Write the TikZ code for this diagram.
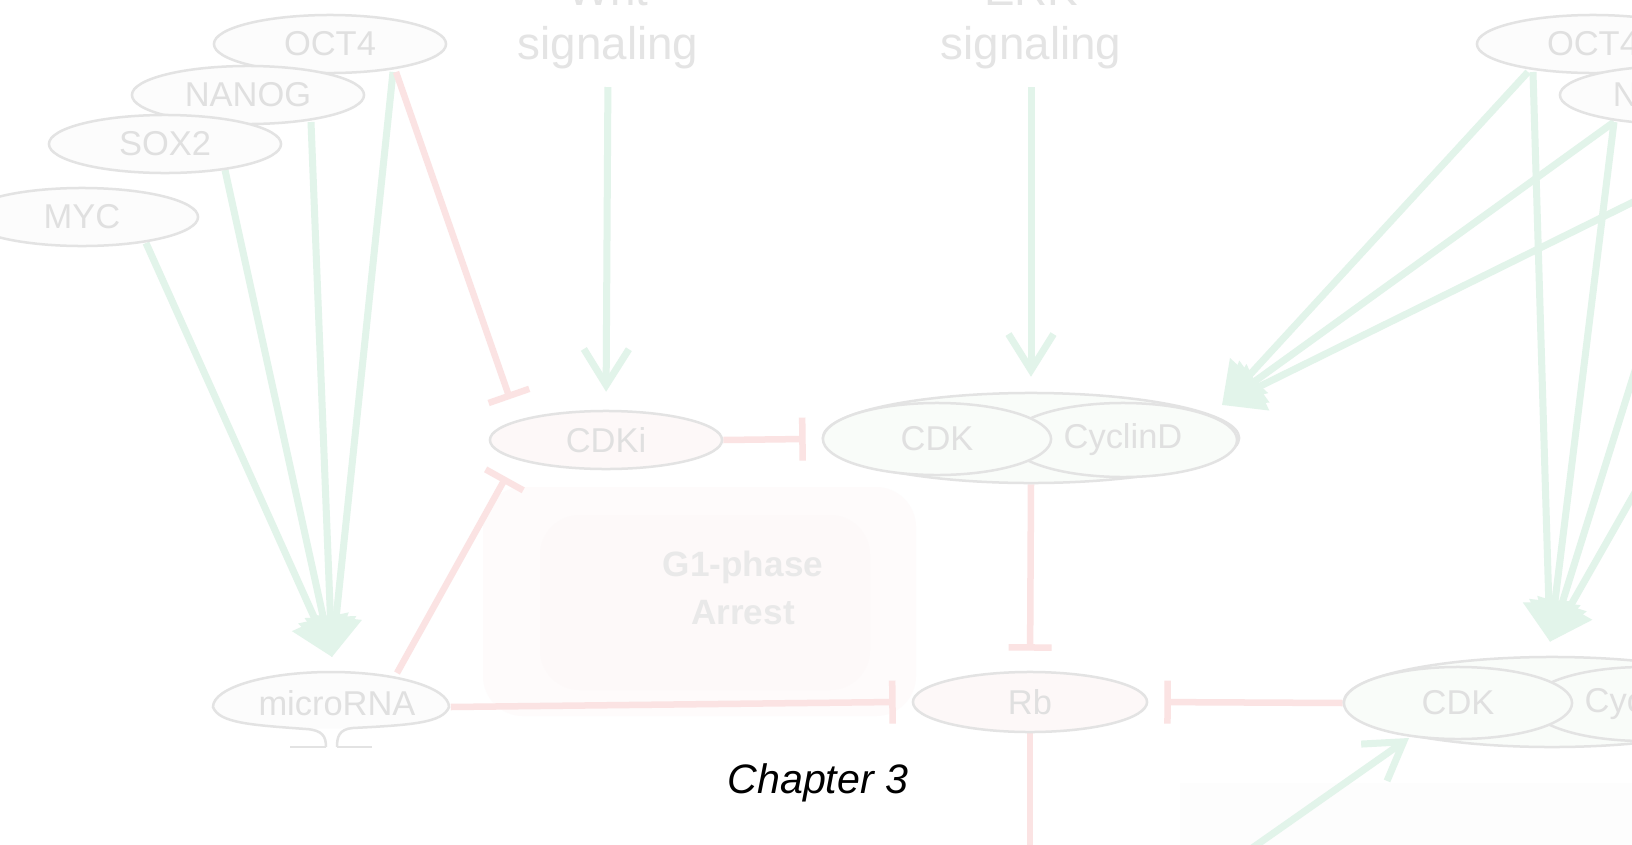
\documentclass[tikz,border=0pt]{standalone}
\usepackage{fontspec}
\setmainfont{Liberation Sans}
\usetikzlibrary{arrows.meta,shapes.geometric,calc}
\pgfdeclarelayer{back}
\pgfdeclarelayer{lines}
\pgfdeclarelayer{mid}
\pgfsetlayers{back,lines,mid,main}
\definecolor{labc}{HTML}{E0E0E0}
\definecolor{sigc}{HTML}{E4E4E4}
\definecolor{ellc}{HTML}{E3E3E3}
\definecolor{ellf}{HTML}{FCFCFC}
\definecolor{pinkf}{HTML}{FDF8F8}
\definecolor{greenf}{HTML}{F9FCF9}
\definecolor{grnc}{HTML}{E2F4EA}
\definecolor{redc}{HTML}{FBE3E3}
\definecolor{gonec}{HTML}{E9E9E9}
\definecolor{blurc}{HTML}{FEFBFB}
\definecolor{blurd}{HTML}{FDF9F9}
\definecolor{boxc}{HTML}{FDFDFD}
\begin{document}
\begin{tikzpicture}[x=0.01cm,y=-0.01cm,
  ell/.style={ellipse, draw=ellc, line width=0.025cm, fill=ellf, inner sep=0pt,
    minimum width=2.32cm, minimum height=0.58cm, text=labc,
    font=\fontsize{9.8}{11}\selectfont},
  cplxbox/.style={ell, fill=greenf, minimum width=4.16cm, minimum height=0.9cm},
  partbox/.style={ell, fill=greenf, minimum width=2.28cm, minimum height=0.72cm},
  grn/.style={draw=grnc, line width=0.07cm},
  red/.style={draw=redc, line width=0.065cm},
  act/.style={-{Triangle[length=0.4cm,width=0.5cm]}},
  opn/.style={-{Straight Barb[length=0.36cm,width=0.45cm]}},
  inh/.style={-{Bar[width=0.43cm]}},
  sig/.style={text=sigc, font=\fontsize{13}{15.4}\selectfont, align=center, inner sep=0pt}
]
\useasboundingbox (0,0) rectangle (1632,845);
\clip (0,0) rectangle (1632,845);

\begin{pgfonlayer}{back}
  \fill[white] (0,0) rectangle (1632,845);
  \fill[blurc, rounded corners=0.4cm] (483,487) rectangle (916,716);
  \fill[blurd, rounded corners=0.4cm] (540,515) rectangle (870,690);
  \fill[boxc] (1180,783) rectangle (1640,850);
\end{pgfonlayer}

% left transcription factors
\node[ell] (oct4) at (330,44) {OCT4};
\node[ell] (nanog) at (248,95) {NANOG};
\node[ell] (sox2) at (165,144) {SOX2};
\node[ell] (myc) at (82,217) {MYC};
% right transcription factors (cut by the page edge)
\node[ell] (roct) at (1593,44) {OCT4};
\node[ell] (rnan) at (1676,95) {NANOG};
\coordinate (rsox) at (1698,170);
\coordinate (rmyc) at (1777,243);

% middle row
\node[ell, fill=pinkf] (cdki) at (606,440) {CDKi};
\node[cplxbox] (cplx) at (1031,438) {};
\node[partbox, minimum height=0.74cm] (cyc) at (1123,440) {CyclinD};
\node[partbox] (cdk) at (937,439) {CDK};

% bottom row
\node[ell, fill=pinkf, minimum width=2.34cm, minimum height=0.6cm] (rb) at (1030,702) {Rb};
\node[cplxbox] (rcplx) at (1552,702) {};
\node[partbox, minimum height=0.74cm] (rcyc) at (1644,704) {CyclinD};
\node[partbox] (rcdk) at (1458,703) {CDK};
\node[ellipse, inner sep=0pt, minimum width=2.36cm, minimum height=0.58cm, text=labc,
  font=\fontsize{9.8}{11}\selectfont] (mirna) at (337,703) {microRNA};

% texts
\node[sig, anchor=south] (wnt) at (608,70) {Wnt\\signaling};
\node[sig, anchor=south] (erk) at (1031,70) {ERK\\signaling};
\node[text=gonec, font=\fontsize{10}{13.7}\selectfont\bfseries, align=center, inner sep=0pt]
  (g1) at (743,588) {G1-phase\\Arrest};
\node[font=\fontsize{11.7}{14}\selectfont\itshape, anchor=base, inner sep=0pt, text=black]
  (chap) at (818,793) {Chapter 3};

% helper points
\coordinate (mtip) at ($(mirna)+(-5,-46)$);
\coordinate (ctip) at ($(cyc)+(99,-35)$);
\coordinate (rtip) at ($(rcplx.north)+(-2,-14)$);
\coordinate (brs) at (1191,891);
\coordinate (rbend) at (1030,870);

\begin{pgfonlayer}{mid}
\begin{scope}[shift={($(mirna)+(-6,4)$)}]
  \fill[ellf] (-118,0) .. controls (-118,-19.3) and (-65.2,-35) .. (0,-35)
    .. controls (65.2,-35) and (118,-19.3) .. (118,0)
    .. controls (112,16) and (80,18) .. (22,21) -- (-25,22)
    .. controls (-80,18) and (-112,16) .. (-118,0) -- cycle;
  \draw[ellc, line width=0.025cm] (-5,40) .. controls (-5,30) and (-8,23) .. (-25,22)
    .. controls (-80,18) and (-112,16) .. (-118,0)
    .. controls (-118,-19.3) and (-65.2,-35) .. (0,-35)
    .. controls (65.2,-35) and (118,-19.3) .. (118,0)
    .. controls (112,16) and (80,18) .. (22,21)
    .. controls (8,22) and (6,30) .. (6,40);
  \draw[ellc, line width=0.025cm] (-5,40) -- (-41,40);
  \draw[ellc, line width=0.025cm] (6,40) -- (41,40);
\end{scope}
\end{pgfonlayer}

\begin{pgfonlayer}{lines}
  % activations into microRNA
  \draw[grn,act] ($(myc)+(64,26)$) -- (mtip);
  \draw[grn,act] ($(sox2)+(60,26)$) -- (mtip);
  \draw[grn,act] ($(nanog)+(63,27)$) -- (mtip);
  \draw[grn,act] ($(oct4)+(63,28)$) -- (mtip);
  % inhibitions of CDKi
  \draw[red,inh] ($(oct4)+(66,28)$) -- ($(cdki)+(-96,-41)$);
  \draw[red,inh] ($(mirna)+(60,-30)$) -- ($(cdki)+(-100,37)$);
  % signaling
  \draw[grn,opn,shorten <=0.17cm,shorten >=0.18cm] (wnt.south) -- (cdki.north);
  \draw[grn,opn,shorten <=0.17cm,shorten >=0.15cm] (erk.south) -- (cplx.north);
  % CDKi -| CDK, CDK -| Rb, microRNA -| Rb, right CDK -| Rb
  \draw[red,inh] (cdki.east) -- ($(cdk.west)+(-16,0)$);
  \draw[red,inh,shorten >=0.2cm] (cplx.south) -- (rb.north);
  \draw[red,inh] ($(mirna.east)+(-5,4)$) -- ($(rb.west)+(-16,0)$);
  \draw[red,inh,shorten >=0.16cm] (rcdk.west) -- (rb.east);
  \draw[red] (rb.south) -- (rbend);
  % right factors onto CyclinD
  \draw[grn,act] ($(roct)+(-65,28)$) -- (ctip);
  \draw[grn,act] ($(rnan)+(-62,27)$) -- (ctip);
  \draw[grn,act] (rsox) -- (ctip);
  % right factors onto the right complex
  \draw[grn,act] ($(roct)+(-60,28)$) -- (rtip);
  \draw[grn,act] ($(rnan)+(-62,27)$) -- (rtip);
  \draw[grn,act] (rsox) -- (rtip);
  \draw[grn,act] (rmyc) -- (rtip);
  % bottom right activation
  \draw[grn,opn] (brs) -- ($(rcdk)+(-49,35)$);
\end{pgfonlayer}
\end{tikzpicture}
\end{document}
